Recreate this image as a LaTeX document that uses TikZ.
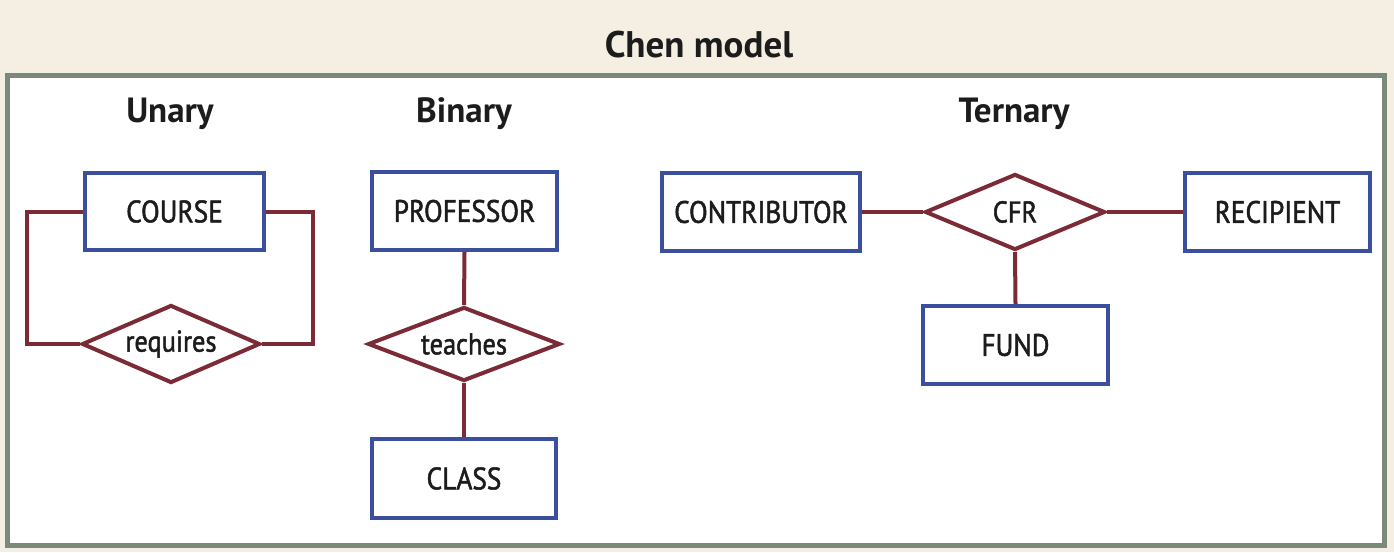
\documentclass[tikz,border=0pt]{standalone}
\usepackage{fontspec}
\setmainfont{PT Sans}
\newfontfamily\labfont{PT Sans}[FakeStretch=0.88, FakeBold=1.6]
\usetikzlibrary{shapes.geometric}
\definecolor{bgbeige}{RGB}{245,238,227}
\definecolor{panelgreen}{RGB}{122,137,121}
\definecolor{entblue}{RGB}{60,78,158}
\definecolor{relred}{RGB}{123,43,54}
\definecolor{txt}{RGB}{28,28,28}
\tikzset{
  ent/.style={draw=entblue, line width=4pt, fill=white, rectangle, minimum width=185pt, minimum height=78pt, inner sep=0pt, font=\labfont\fontsize{31}{32}\selectfont, text=txt},
  relsh/.style={draw=relred, line width=4pt, fill=white, diamond, aspect=2.3, inner sep=0pt, font=\labfont\fontsize{30}{31}\selectfont, text=txt},
  link/.style={draw=relred, line width=4pt},
  head/.style={font=\fontsize{35}{38}\selectfont\bfseries, text=txt},
  ttl/.style={font=\fontsize{37}{40}\selectfont\bfseries, text=txt},
}
\begin{document}
\begin{tikzpicture}[x=1pt,y=-1pt]
\useasboundingbox (0,0) rectangle (1394,552);
\fill[bgbeige] (0,0) rectangle (1394,552);
\draw[panelgreen, line width=5pt, fill=white] (7.5,75.5) rectangle (1384.5,545.5);
\node[ttl] (title) at (699,45) {Chen model};
\node[head] (hun) at (170,114) {Unary};
\node[head] (hbi) at (464,114) {Binary};
\node[head] (hte) at (1014,114) {Ternary};
% Unary
\node[ent, minimum width=179pt, minimum height=77pt] (course) at (174.5,211.5) {COURSE};
\node[relsh, minimum width=178pt, minimum height=78pt] (req) at (171,344) {requires};
\coordinate (lw) at (27,278);
\coordinate (rw) at (313,278);
\draw[link] (course.west) -| (lw) |- (req.west);
\draw[link] (course.east) -| (rw) |- (req.east);
% Binary
\node[ent] (prof) at (464.5,211) {PROFESSOR};
\node[relsh, minimum width=192pt, minimum height=74pt] (teach) at (464,344) {teaches};
\node[ent, minimum width=184pt, minimum height=79pt] (class) at (464,478.5) {CLASS};
\draw[link] (prof.south) -- (teach.north);
\draw[link] (teach.south) -- (class.north);
% Ternary
\node[ent, minimum width=198pt] (contr) at (761,212) {CONTRIBUTOR};
\node[relsh, minimum width=180pt, minimum height=76pt] (cfr) at (1015,212) {CFR};
\node[ent] (recip) at (1277.5,212) {RECIPIENT};
\node[ent] (fund) at (1015.5,345) {FUND};
\draw[link] (contr.east) -- (cfr.west);
\draw[link] (cfr.east) -- (recip.west);
\draw[link] (cfr.south) -- (fund.north);
\end{tikzpicture}
\end{document}
